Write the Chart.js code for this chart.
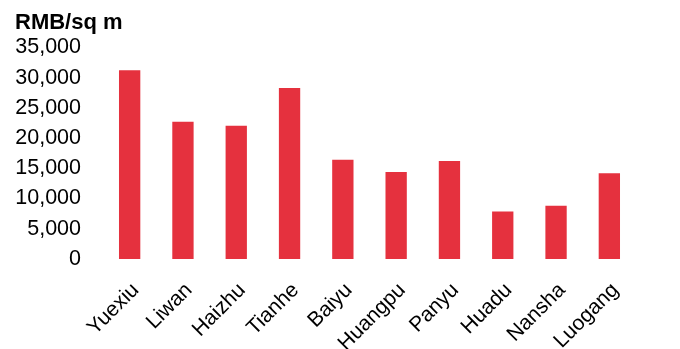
<!DOCTYPE html>
<html>
<head>
<meta charset="utf-8">
<script src="https://cdn.jsdelivr.net/npm/chart.js@4/dist/chart.umd.min.js"></script>
<style>
  html, body { margin: 0; padding: 0; background: #fff; }
  #wrap { width: 680px; height: 349px; }
</style>
</head>
<body>
<div id="wrap"><canvas id="myChart" width="680" height="349"></canvas></div>
<script>
//Chart data
const districts = ["Yuexiu", "Liwan", "Haizhu", "Tianhe", "Baiyu", "Huangpu", "Panyu", "Huadu", "Nansha", "Luogang"];
const pricePerSqm = [31200, 22700, 22050, 28300, 16400, 14400, 16200, 7850, 8800, 14200];
const yTicks = [0, 5000, 10000, 15000, 20000, 25000, 30000, 35000];

const barRed = "rgb(229, 49, 62)";
const fontFamily = "Liberation Sans, Arial, sans-serif";

var ctx = document.getElementById("myChart").getContext("2d");
var chart = new Chart(ctx, {
  type: "bar",
  data: {
    labels: districts,
    datasets: [
      {
        label: "RMB/sq m",
        backgroundColor: barRed,
        borderWidth: 0,
        data: pricePerSqm,
        barPercentage: 0.4,
        categoryPercentage: 1,
      },
    ],
  },
  options: {
    responsive: false,
    animation: false,
    layout: { padding: { left: 15, right: 44, top: 0, bottom: 0 } },
    plugins: {
      legend: { display: false },
      tooltip: { enabled: false },
      title: {
        display: true,
        text: "RMB/sq m",
        align: "start",
        color: "#000",
        font: { family: fontFamily, size: 22, weight: "bold" },
        padding: { top: 10, bottom: 11 },
      },
    },
    scales: {
      x: {
        grid: { display: false, drawTicks: false },
        border: { display: false },
        ticks: {
          color: "#000",
          minRotation: 45,
          maxRotation: 45,
          padding: 19,
          labelOffset: 6,
          font: { family: fontFamily, size: 21 },
        },
        afterFit: (scale) => { scale.height = 90; },
      },
      y: {
        min: 0,
        max: 35000,
        grid: { display: false, drawTicks: false },
        border: { display: false },
        afterBuildTicks: (scale) => { scale.ticks = yTicks.map((v) => ({ value: v })); },
        ticks: {
          color: "#000",
          padding: 22,
          font: { family: fontFamily, size: 21.5 },
          callback: (v) => v.toLocaleString("en-US"),
        },
        afterFit: (scale) => { scale.width = 88; },
      },
    },
  },
});
</script>
</body>
</html>
